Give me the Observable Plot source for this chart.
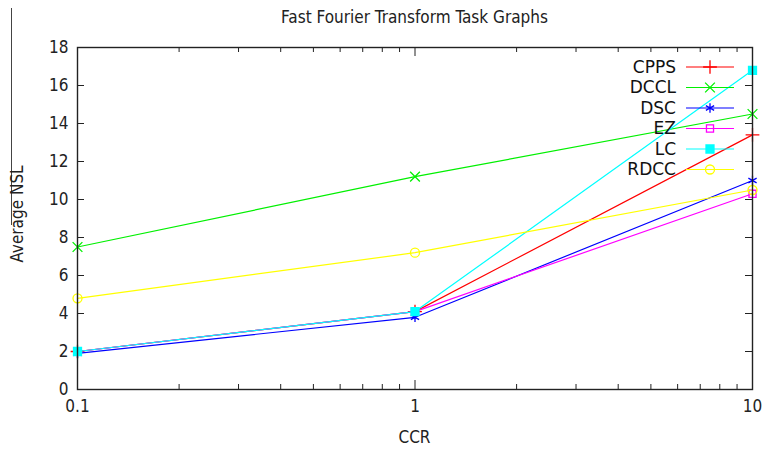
<!DOCTYPE html>
<html>
<head>
<meta charset="utf-8">
<script src="https://cdn.jsdelivr.net/npm/d3@7"></script>
<script src="https://cdn.jsdelivr.net/npm/@observablehq/plot@0.6"></script>
<style>
  body { margin: 0; background: #fff; }
  #wrap { position: relative; width: 766px; height: 450px; font-family: "DejaVu Sans Condensed", "DejaVu Sans", sans-serif; color: #222; }
  #wrap > svg.plot { position: absolute; left: 0; top: 0; }
  .lbl { position: absolute; white-space: nowrap; font-size: 17px; }
  #title { left: 0; width: 829px; top: 7px; text-align: center; }
  #xlab { left: 0; width: 829px; top: 427px; text-align: center; }
  #ylab { left: 17px; top: 214px; transform: translate(-50%, -50%) rotate(-90deg); }
  #edge { position: absolute; left: 11px; top: 8px; width: 0; height: 217px; border-left: 1px solid #444; }
  #legend { position: absolute; left: 600px; top: 55px; }
</style>
</head>
<body>
<div id="wrap">
  <div id="edge"></div>
  <div class="lbl" id="title">Fast Fourier Transform Task Graphs</div>
  <div class="lbl" id="xlab">CCR</div>
  <div class="lbl" id="ylab">Average NSL</div>
</div>
<script>
// Average NSL against CCR for the FFT task graphs
const ccr = [0.1, 1, 10];
const cpps = [2.0, 4.1, 13.4];
const dccl = [7.5, 11.2, 14.5];
const dsc = [1.9, 3.8, 11.0];
const ez = [2.0, 4.1, 10.3];
const lc = [2.0, 4.1, 16.8];
const rdcc = [4.8, 7.2, 10.5];

const seriesNames = ["CPPS", "DCCL", "DSC", "EZ", "LC", "RDCC"];
const seriesValues = [cpps, dccl, dsc, ez, lc, rdcc];
const seriesColors = ["#ff0000", "#00f000", "#0000ff", "#ff00ff", "#00ffff", "#ffff00"];
const seriesSymbols = ["plus", "times", "asterisk", "square2", "square", "circle"];
const seriesFilled = [false, false, false, false, true, false];

const yTicks = [0, 2, 4, 6, 8, 10, 12, 14, 16, 18];
const xTicks = [0.1, 1, 10];
const xMinor = [0.2, 0.3, 0.4, 0.5, 0.6, 0.7, 0.8, 0.9, 2, 3, 4, 5, 6, 7, 8, 9];

const W = 766, H = 450;
const M = {top: 47, right: 14, bottom: 61, left: 77};
const innerW = W - M.left - M.right;
const innerH = H - M.top - M.bottom;

const rows = [];
seriesNames.forEach((name, i) => {
  ccr.forEach((x, j) => rows.push({series: name, i, x, y: seriesValues[i][j]}));
});

const marks = [];
// inward ticks on all four sides
marks.push(Plot.tickY(yTicks.slice(1, -1), {y: d => d, insetRight: innerW - 7, stroke: "#222"}));
marks.push(Plot.tickY(yTicks.slice(1, -1), {y: d => d, insetLeft: innerW - 7, stroke: "#222"}));
marks.push(Plot.tickX(xMinor, {x: d => d, insetTop: innerH - 5, stroke: "#222"}));
marks.push(Plot.tickX(xMinor, {x: d => d, insetBottom: innerH - 5, stroke: "#222"}));
marks.push(Plot.tickX([1], {x: d => d, insetTop: innerH - 9, stroke: "#222"}));
marks.push(Plot.tickX([1], {x: d => d, insetBottom: innerH - 9, stroke: "#222"}));

seriesNames.forEach((name, i) => {
  const data = rows.filter(r => r.i === i);
  marks.push(Plot.line(data, {x: "x", y: "y", stroke: seriesColors[i], strokeWidth: 1.2}));
  marks.push(Plot.dot(data, {
    x: "x", y: "y", symbol: () => seriesSymbols[i], r: 4.5,
    stroke: seriesColors[i], strokeWidth: 1.3,
    fill: seriesFilled[i] ? seriesColors[i] : "none"
  }));
});

marks.push(Plot.frame({stroke: "#222", strokeWidth: 1.4}));
marks.push(Plot.axisY(yTicks, {tickSize: 0, tickPadding: 9, fontSize: 17, label: null}));
marks.push(Plot.axisX(xTicks, {tickSize: 0, tickPadding: 10, fontSize: 17, label: null, tickFormat: d => String(d)}));

const chart = Plot.plot({
  width: W, height: H,
  marginTop: M.top, marginRight: M.right, marginBottom: M.bottom, marginLeft: M.left,
  style: {fontFamily: "DejaVu Sans Condensed, DejaVu Sans, sans-serif", color: "#222", background: "transparent"},
  x: {type: "log", domain: [0.1, 10]},
  y: {domain: [0, 18]},
  symbol: {type: "identity"},
  marks
});
chart.classList.add("plot");
document.getElementById("wrap").prepend(chart);

// key, placed inside the top-right corner of the frame
const key = d3.select("#wrap").append("svg")
  .attr("id", "legend").attr("width", 150).attr("height", 130)
  .style("font-family", "DejaVu Sans, sans-serif");
const symbolTypes = {
  plus: d3.symbolPlus, times: d3.symbolTimes, asterisk: d3.symbolAsterisk,
  square2: d3.symbolSquare2, square: d3.symbolSquare, circle: d3.symbolCircle
};
seriesNames.forEach((name, i) => {
  const g = key.append("g").attr("transform", `translate(0, ${12 + i * 20.5})`);
  g.append("text").attr("x", 76).attr("y", 0).attr("dy", "0.35em")
    .attr("text-anchor", "end").attr("font-size", 17).attr("fill", "#111").text(name);
  g.append("line").attr("x1", 86).attr("x2", 134).attr("y1", 0).attr("y2", 0)
    .attr("stroke", seriesColors[i]).attr("stroke-width", 1.2);
  g.append("path").attr("transform", "translate(110,0)")
    .attr("d", d3.symbol(symbolTypes[seriesSymbols[i]], Math.PI * 4.5 * 4.5)())
    .attr("stroke", seriesColors[i]).attr("stroke-width", 1.3)
    .attr("fill", seriesFilled[i] ? seriesColors[i] : "none");
});
</script>
</body>
</html>
